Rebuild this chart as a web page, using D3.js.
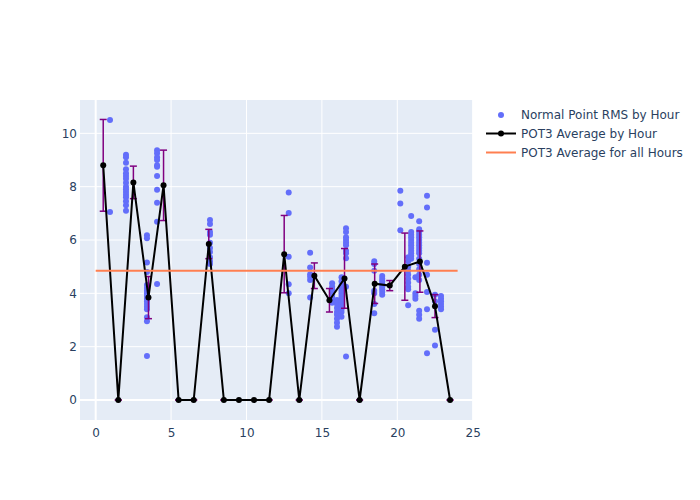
<!DOCTYPE html>
<html><head><meta charset="utf-8">
<script src="https://cdn.jsdelivr.net/npm/d3@7"></script>
<style>body{margin:0;background:#fff}text{font-family:"DejaVu Sans",sans-serif}</style>
</head><body>
<svg id="c" width="700" height="500"></svg>
<script>
// ---- data ----
const hours = [0.5,1.5,2.5,3.5,4.5,5.5,6.5,7.5,8.5,9.5,10.5,11.5,12.5,13.5,14.5,15.5,16.5,17.5,18.5,19.5,20.5,21.5,22.5,23.5];
const avgByHour = [8.80,0,8.16,3.84,8.05,0,0,5.85,0,0,0,0,5.47,0,4.66,3.74,4.56,0,4.36,4.29,5.00,5.19,3.52,0];
const errByHour = [1.72,0,0.61,0.79,1.32,0,0,0.55,0,0,0,0,1.45,0,0.48,0.44,1.12,0,0.74,0.19,1.26,1.15,0.43,0];
const avgAll = 4.85;
const avgAllRange = [0, 24];

const scatterGroups = [
  [0.95, [10.5, 7.05]],
  [2.01, [9.2,9.1,8.9,8.65,8.5,8.4,8.3,8.15,8.0,7.9,7.8,7.7,7.6,7.45,7.3,7.1]],
  [3.40, [6.18,6.07,5.16,4.8,4.31,4.2,4.1,4.0,3.9,3.8,3.7,3.6,3.5,3.4,3.1,2.95,1.65]],
  [4.07, [9.37,9.25,9.1,9.0,8.8,8.75,8.4,7.88,7.4,6.68,4.35]],
  [7.58, [6.75,6.6,6.3,6.2,5.9,5.7,5.55,5.35,5.2,5.1]],
  [12.8, [7.78,7.01,5.37,4.34,4.0]],
  [14.22, [5.52,4.97,4.72,4.62,4.5,3.84]],
  [15.68, [4.38,4.25,4.15,4.05,3.95,3.85,3.75,3.65]],
  [16.0, [3.75,3.6,3.45,3.3,3.2,3.05,2.9,2.75]],
  [16.3, [4.6,4.45,4.3,4.2,4.1,4.0,3.9,3.8,3.7,3.6,3.5,3.4,3.3,3.12]],
  [16.6, [6.44,6.3,6.1,6.0,5.9,5.8,5.6,5.5,5.32,4.25,1.63]],
  [18.47, [5.2,5.1,4.85,4.1,4.0,3.6,3.25]],
  [19.0, [4.65,4.55,4.45,4.35,4.25,4.15,4.05,3.95]],
  [20.2, [7.85,7.37,6.37]],
  [20.72, [5.35,5.2,5.0,4.85,4.7,4.55,4.4,4.25,4.15,3.55]],
  [20.92, [6.9,6.3,6.2,6.1,6.0,5.9,5.8,5.7,5.6,5.5,5.4,5.3]],
  [21.2, [4.6,4.0,3.9,3.8]],
  [21.45, [6.7,6.4,6.3,6.2,6.1,6.0,5.9,5.8,5.7,5.6,5.5,5.3,5.1,4.9,4.7,4.5,3.35,3.2,3.05]],
  [21.97, [7.66,7.22,5.15,4.7,4.05,3.4,1.75]],
  [22.5, [3.95,3.7,2.63,2.04]],
  [22.9, [3.9,3.8,3.7,3.6,3.5,3.4]]
];
const xTicks = [0,5,10,15,20,25];
const yTicks = [0,2,4,6,8,10];
const legendLabels = ["Normal Point RMS by Hour","POT3 Average by Hour","POT3 Average for all Hours"];

// ---- chart ----
const svg = d3.select("#c");
const L = 80, R = 472.7, T = 100, B = 420;
const x = d3.scaleLinear().domain([-1.04, 25.0]).range([L, R]);
const y = d3.scaleLinear().domain([-0.75, 11.25]).range([B, T]);
const font = "#2a3f5f";
const ff = "'DejaVu Sans',sans-serif";

svg.append("rect").attr("x", L).attr("y", T).attr("width", R - L).attr("height", B - T).attr("fill", "#e5ecf6");

const g = svg.append("g");
g.selectAll(".gx").data(xTicks.filter(t => x(t) <= R + 0.5)).enter().append("line")
  .attr("x1", d => x(d)).attr("x2", d => x(d)).attr("y1", T).attr("y2", B)
  .attr("stroke", "#fff").attr("stroke-width", d => d === 0 ? 2 : 1);
g.selectAll(".gy").data(yTicks).enter().append("line")
  .attr("x1", L).attr("x2", R).attr("y1", d => y(d)).attr("y2", d => y(d))
  .attr("stroke", "#fff").attr("stroke-width", d => d === 0 ? 2 : 1);

// axes labels
const xa = d3.axisBottom(x).tickValues(xTicks).tickSize(0).tickPadding(8);
const xg = svg.append("g").attr("transform", `translate(0,${B})`).call(xa);
xg.select(".domain").remove();
xg.selectAll("text").attr("fill", font).style("font-size", "12px").style("font-family", ff);
const ya = d3.axisLeft(y).tickValues(yTicks).tickSize(0).tickPadding(3);
const yg = svg.append("g").attr("transform", `translate(${L},0)`).call(ya);
yg.select(".domain").remove();
yg.selectAll("text").attr("fill", font).style("font-size", "12px").style("font-family", ff);

// scatter
const pts = [];
scatterGroups.forEach(([h, vals]) => vals.forEach(v => pts.push([h, v])));
svg.append("g").selectAll("circle").data(pts).enter().append("circle")
  .attr("cx", d => x(d[0])).attr("cy", d => y(d[1])).attr("r", 3).attr("fill", "#636efa");

// error bars
const eb = svg.append("g").attr("stroke", "#800080").attr("stroke-width", 1.5).attr("fill", "none");
hours.forEach((h, i) => {
  const cx = x(h), y1 = y(avgByHour[i] + errByHour[i]), y0 = y(avgByHour[i] - errByHour[i]);
  eb.append("line").attr("x1", cx).attr("x2", cx).attr("y1", y1).attr("y2", y0);
  eb.append("line").attr("x1", cx - 3.5).attr("x2", cx + 3.5).attr("y1", y1).attr("y2", y1);
  eb.append("line").attr("x1", cx - 3.5).attr("x2", cx + 3.5).attr("y1", y0).attr("y2", y0);
});

// average line
const line = d3.line().x((d, i) => x(hours[i])).y(d => y(d));
svg.append("path").datum(avgByHour).attr("d", line).attr("fill", "none").attr("stroke", "#000").attr("stroke-width", 2);
svg.append("g").selectAll("circle").data(avgByHour).enter().append("circle")
  .attr("cx", (d, i) => x(hours[i])).attr("cy", d => y(d)).attr("r", 3).attr("fill", "#000");

// overall average
svg.append("line").attr("x1", x(avgAllRange[0])).attr("x2", x(avgAllRange[1]))
  .attr("y1", y(avgAll)).attr("y2", y(avgAll)).attr("stroke", "#ff7f50").attr("stroke-width", 2);

// legend
const lg = svg.append("g");
const ly = [115, 133.5, 152.5];
lg.append("circle").attr("cx", 501).attr("cy", ly[0]).attr("r", 3).attr("fill", "#636efa");
lg.append("line").attr("x1", 486).attr("x2", 516).attr("y1", ly[1]).attr("y2", ly[1]).attr("stroke", "#000").attr("stroke-width", 2);
lg.append("circle").attr("cx", 501).attr("cy", ly[1]).attr("r", 3).attr("fill", "#000");
lg.append("line").attr("x1", 486).attr("x2", 516).attr("y1", ly[2]).attr("y2", ly[2]).attr("stroke", "#ff7f50").attr("stroke-width", 2);
lg.selectAll("text").data(legendLabels).enter().append("text")
  .attr("x", 521).attr("y", (d, i) => ly[i]).attr("dy", "0.35em")
  .attr("fill", font).style("font-size", "12px").style("font-family", ff).text(d => d);
</script>
</body></html>
